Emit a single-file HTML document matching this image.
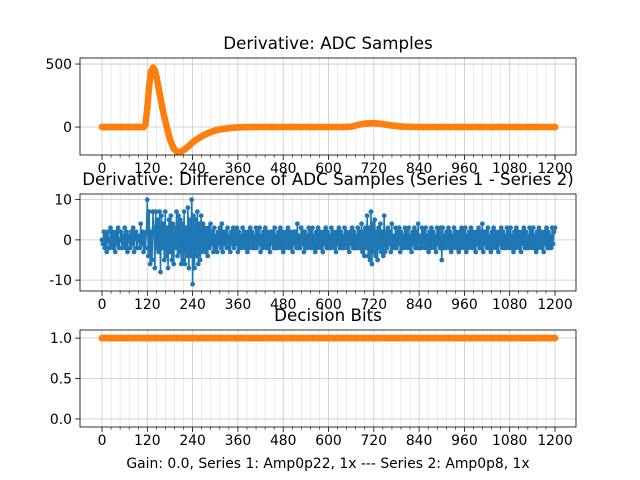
<!DOCTYPE html>
<html><head><meta charset="utf-8">
<style>
html,body{margin:0;padding:0;background:#fff;}
svg{display:block;font-family:"DejaVu Sans","Liberation Sans",sans-serif;}
</style></head>
<body>
<svg id="fig" width="640" height="480" viewBox="0 0 640 480" xmlns="http://www.w3.org/2000/svg">
<rect width="640" height="480" fill="#fff"/>
</svg>
<script>
// ---- data ----
const xTicks = [0,120,240,360,480,600,720,840,960,1080,1200];
const topTicks = [0,500];
const midTicks = [-10,0,10];
const botTicks = [0.0,0.5,1.0];
const topX = [0,10,20,30,40,50,60,70,80,90,100,110,115,120,125,130,135,140,145,150,155,160,165,170,175,180,190,200,210,220,230,240,250,260,270,280,290,300,310,320,330,340,350,360,380,400,450,500,550,600,640,660,670,680,690,700,710,720,730,740,750,760,770,780,790,800,820,850,900,950,1000,1050,1100,1150,1200];
const topY = [0,0,0,0,0,0,0,0,0,0,0,0,20,150,330,440,470,450,390,310,230,150,80,20,-40,-100,-170,-200,-195,-175,-150,-122,-100,-80,-64,-50,-38,-28,-20,-15,-11,-8,-5,-3,-1,0,0,0,0,0,0,3,10,18,24,28,30,30,28,25,20,15,11,8,5,3,1,0,0,0,0,0,0,0,0];
const midY = [
 0,-1,2,-2,1,-3,2,0,-2,3,-1,2,-2,1,-3,2,-1,3,-2,0,
 2,-2,1,-1,3,-2,2,-3,1,0,-2,2,-1,3,-3,1,2,-2,0,1,
 -2,4,-1,2,-3,1,-2,2,10,-4,7,-6,2,-5,7,3,-7,7,-2,5,
 -3,7,-8,6,-2,4,-5,7,-4,3,-7,5,-3,6,-5,4,-6,3,-2,7,
 -4,6,-3,5,-6,4,-5,7,-6,3,-4,8,-7,5,-4,10,-11,6,-7,5,
 -4,7,-6,4,-5,6,-3,4,-2,3,-3,2,-4,3,-2,4,-1,2,-3,3,
 -2,1,-3,2,-1,3,-2,4,-3,2,-1,2,-2,3,-2,1,-3,2,-1,3,
 -2,2,-1,3,-3,2,-2,1,-2,3,-1,2,-2,1,-3,2,-2,3,-1,2,
 -2,1,-2,3,-2,2,-1,3,-3,1,-2,2,-1,3,-2,2,-2,1,-3,2,
 -1,2,-2,3,-2,1,-2,2,-1,3,-2,2,-3,1,-2,2,-1,3,-2,2,
 -2,1,-3,2,-1,2,-2,4,-2,1,-2,3,-1,2,-3,2,-2,1,-2,3,
 -1,2,-2,3,-2,1,-3,2,-2,3,-1,2,-2,1,-3,2,-1,3,-2,2,
 -2,1,-2,3,-1,2,-2,1,-3,2,-1,3,-2,2,-2,1,-2,3,-1,2,
 -2,1,-3,2,-1,3,-2,2,-2,1,-2,3,-2,2,-2,4,-3,2,-4,3,
 -2,6,-4,3,-5,7,-6,4,-3,5,-4,2,-5,3,-2,4,-3,2,-4,6,
 -3,2,-2,3,-1,2,-3,4,-2,1,-2,3,-2,2,-1,3,-3,2,-2,1,
 -2,3,-1,2,-2,3,-2,1,-3,2,-1,3,-2,2,-2,4,-2,1,-2,3,
 -1,2,-2,3,-2,1,-3,2,-2,3,-1,2,-2,1,-3,3,-1,2,-2,3,
 -5,3,-2,1,-2,2,-1,3,-2,2,-3,1,-2,3,-1,2,-2,1,-3,2,
 -2,3,-1,2,-2,3,-3,1,-2,2,-1,3,-2,2,-2,1,-3,2,-1,3,
 -2,2,-2,4,-3,2,-1,2,-2,3,-2,1,-3,2,-2,3,-1,2,-2,1,
 -3,2,-1,3,-2,2,-2,1,-2,3,-1,2,-2,3,-2,1,-3,2,-2,3,
 -1,2,-2,1,-3,2,-1,3,-2,2,-2,1,-2,3,-1,2,-2,3,-2,1,
 -3,2,-2,3,-1,2,-2,1,-3,2,-1,3,-2,2,-2,1,-2,3,-1,2,
 3];
const botY = [1,1,1,1,1,1,1,1,1,1,1,1,1,1,1,1,1,1,1,1,1,1,1,1,1,1,1,1,1,1,1,1,1,1,1,1,1,1,1,1,1,1,1,1,1,1,1,1,1,1,1,1,1,1,1,1,1,1,1,1,1,1,1,1,1,1,1,1,1,1,1,1,1,1,1,1,1,1,1,1,1,1,1,1,1,1,1,1,1,1,1,1,1,1,1,1,1,1,1,1,1,1,1,1,1,1,1,1,1,1,1,1,1,1,1,1,1,1,1,1,1];

const NS='http://www.w3.org/2000/svg';
const svg=document.getElementById('fig');
function mk(tag,attrs,parent){const e=document.createElementNS(NS,tag);for(const k in attrs)e.setAttribute(k,attrs[k]);(parent||svg).appendChild(e);return e;}

const L=80,R=576;
const xMin=-58.3,xMax=1255.6;
function sx(v){return L+(v-xMin)/(xMax-xMin)*(R-L);}

function axes(name,top,bot,yMin,yMax,yTicks,fmt,title){
  const g=mk('g',{});
  
  
  const sy=v=>bot-(v-yMin)/(yMax-yMin)*(bot-top);
  for(let v=0;v<=1200;v+=24){
    if(v%120===0)continue;
    const l=mk('line',{x1:sx(v),x2:sx(v),y1:top,y2:bot,stroke:'#e6e6e6','stroke-width':0.8},g);
    
    
    const t=mk('line',{x1:sx(v),x2:sx(v),y1:bot,y2:bot+2.8,stroke:'#000','stroke-width':0.6},g);
    
    
  }
  xTicks.forEach(v=>{
    const l=mk('line',{x1:sx(v),x2:sx(v),y1:top,y2:bot,stroke:'#c8c8c8','stroke-width':0.8},g);
    
    
    mk('line',{x1:sx(v),x2:sx(v),y1:bot,y2:bot+4.9,stroke:'#000','stroke-width':0.8},g);
    const t=mk('text',{x:sx(v),y:bot+18,'font-size':13.9,'text-anchor':'middle',fill:'#000'},g);
    t.textContent=v;
    
    
  });
  yTicks.forEach(v=>{
    const y=sy(v);
    const l=mk('line',{x1:L,x2:R,y1:y,y2:y,stroke:'#c8c8c8','stroke-width':0.8},g);
    
    
    mk('line',{x1:L-4.9,x2:L,y1:y,y2:y,stroke:'#000','stroke-width':0.8},g);
    const t=mk('text',{x:L-8,y:y+5,'font-size':13.9,'text-anchor':'end',fill:'#000'},g);
    t.textContent=fmt(v);
    
    
  });
  const tt=mk('text',{x:(L+R)/2,y:top-9,'font-size':16.7,'text-anchor':'middle',fill:'#000'},g);
  tt.textContent=title;
  
  
  return {g,sy,top,bot};
}
function frame(a){
  const r=mk('rect',{x:L,y:a.top,width:R-L,height:a.bot-a.top,fill:'none',stroke:'#000','stroke-width':0.8},a.g);
  
  
}
function series(a,xs,ys,color,name,lw,r){
  const g=mk('g',{},a.g);
  
  
  const pts=xs.map((x,i)=>sx(x).toFixed(2)+','+a.sy(ys[i]).toFixed(2)).join(' ');
  const pl=mk('polyline',{points:pts,fill:'none',stroke:color,'stroke-width':lw,'stroke-linejoin':'round'},g);
  
  
  xs.forEach((x,i)=>{
    const c=mk('circle',{cx:sx(x),cy:a.sy(ys[i]),r:r,fill:color},g);
    
    
  });
}

const a1=axes('adc-samples-axes',58,155,-222,548,topTicks,v=>String(v),'Derivative: ADC Samples');
series(a1,topX,topY,'#1f77b4','series-1',5,3);
series(a1,topX,topY,'#ff7f0e','series-2',6.5,3.4);
frame(a1);

const a2=axes('difference-axes',194,291,-12.7,11.4,midTicks,v=>String(v),'Derivative: Difference of ADC Samples (Series 1 - Series 2)');
const midX=midY.map((_,i)=>i*2.5);
series(a2,midX,midY,'#1f77b4','difference',1.5,2.4);
frame(a2);

const a3=axes('decision-bits-axes',330,427,-0.1,1.1,botTicks,v=>v.toFixed(1),'Decision Bits');
const botX=botY.map((_,i)=>i*10);
series(a3,botX,botY,'#ff7f0e','decision-bits',6.5,3.4);
frame(a3);

const xl=mk('text',{x:(L+R)/2,y:468,'font-size':13.9,'text-anchor':'middle',fill:'#000'});
xl.textContent='Gain: 0.0, Series 1: Amp0p22, 1x --- Series 2: Amp0p8, 1x';


</script>
</body></html>
